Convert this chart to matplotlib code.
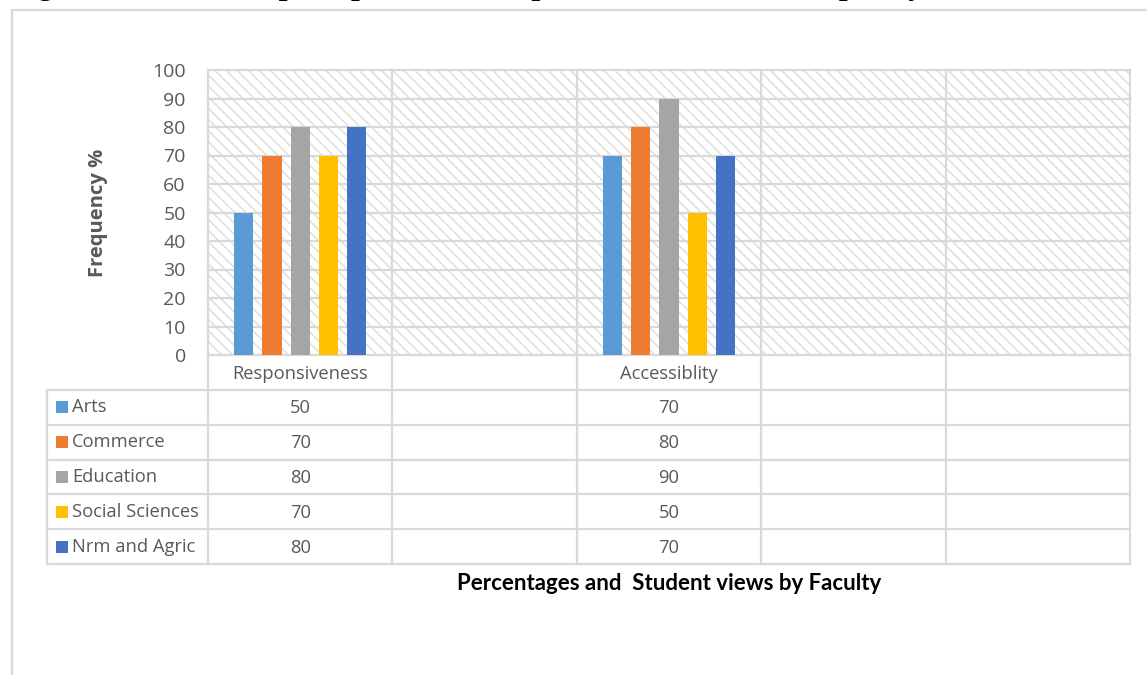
"""
Student perceptions chart: clustered bars with an Excel-style data table below.
"""
import numpy as np
import matplotlib
matplotlib.use("Agg")
import matplotlib.pyplot as plt
from matplotlib.patches import Rectangle
from matplotlib.lines import Line2D

# ---- data ----
categories = ["Responsiveness", "", "Accessiblity", "", ""]
series = ["Arts", "Commerce", "Education", "Social Sciences", "Nrm and Agric"]
arts = [50, None, 70, None, None]
commerce = [70, None, 80, None, None]
education = [80, None, 90, None, None]
social_sciences = [70, None, 50, None, None]
nrm_agric = [80, None, 70, None, None]
values = [arts, commerce, education, social_sciences, nrm_agric]
colors = ["#5B9BD5", "#ED7D31", "#A5A5A5", "#FFC000", "#4472C4"]
yticks = list(range(0, 101, 10))

title = "Figure 4.11 Student perceptions on the provision of ICT as to quality education"
ylabel = "Frequency %"
xlabel = "Percentages and  Student views by Faculty"

GRID = "#d9d9d9"
TXT = "#595959"
plt.rcParams["font.family"] = ["Open Sans", "DejaVu Sans"]
plt.rcParams["hatch.linewidth"] = 1.1

W, H = 1147, 675
fig = plt.figure(figsize=(W / 100, H / 100), dpi=100)


def fx(px):
    return px / W


def fy(py):
    return 1 - py / H


# ---- chart area ----
ax = fig.add_axes([fx(208), fy(355), fx(1130) - fx(208), fy(70) - fy(355)])
ax.set_xlim(-0.5, len(categories) - 0.5)
ax.set_ylim(0, 100)
ax.add_patch(Rectangle((0, 0), 1, 1, transform=ax.transAxes, facecolor="white",
                       edgecolor="#dedede", hatch="\\\\\\", lw=0, zorder=0))

for y in yticks:
    ax.axhline(y, color=GRID, lw=1.6, zorder=1, clip_on=False)
for b in np.arange(-0.5, len(categories), 1.0):
    ax.axvline(b, color=GRID, lw=1.6, zorder=1, clip_on=False)

x = np.arange(len(categories))
pitch, bw = 0.153, 0.105
for i, (name, vals, c) in enumerate(zip(series, values, colors)):
    v = np.array([np.nan if t is None else t for t in vals], dtype=float)
    ax.bar(x + (i - 2) * pitch, v, width=bw, color=c, zorder=3)

ax.set_yticks(yticks)
ax.set_yticklabels([str(t) for t in yticks])
ax.set_xticks([])
ax.tick_params(axis="y", length=0, pad=16, labelsize=14, labelcolor=TXT)
for s in ax.spines.values():
    s.set_visible(False)

fig.text(fx(98), fy(213), ylabel, rotation=90, ha="center", va="center",
         fontsize=14.5, fontweight="bold", color=TXT)

# ---- data table ----
tab = fig.add_axes([fx(47), fy(564), fx(1130) - fx(47), fy(355) - fy(564)])
unit = 922 / len(categories)
lab_w = (208 - 47) / unit
x0 = -0.5 - lab_w
tab.set_xlim(x0, len(categories) - 0.5)
tab.set_ylim(len(series) + 1, 0)
tab.axis("off")

for r in range(1, len(series) + 2):
    tab.add_line(Line2D([x0, len(categories) - 0.5], [r, r], color=GRID, lw=1.6,
                        clip_on=False))
tab.add_line(Line2D([x0, x0], [1, len(series) + 1], color=GRID, lw=1.6, clip_on=False))
for b in np.arange(-0.5, len(categories), 1.0):
    tab.add_line(Line2D([b, b], [0, len(series) + 1], color=GRID, lw=1.6, clip_on=False))

for j, cat in enumerate(categories):
    tab.text(j, 0.55, cat, ha="center", va="center", fontsize=13.2, color=TXT)

sq = 12 / unit
for i, (name, vals, c) in enumerate(zip(series, values, colors)):
    row = i + 1.5
    tab.add_patch(Rectangle((x0 + 9 / unit, row - 0.17), sq, 0.34, facecolor=c,
                            edgecolor="none"))
    tab.text(x0 + 25 / unit, row, name, ha="left", va="center", fontsize=13.2,
             color=TXT)
    for j, v in enumerate(vals):
        if v is not None:
            tab.text(j, row + 0.03, str(v), ha="center", va="center", fontsize=13.2,
                     color=TXT)

fig.text(fx(669), fy(584), xlabel, ha="center", va="center", fontsize=16,
         fontweight="bold", color="black", family=["Lato", "DejaVu Sans"])

# ---- outer frame and clipped title ----
fig.add_artist(Line2D([fx(12), fx(12)], [fy(10), 0], color=GRID, lw=1.6))
fig.add_artist(Line2D([fx(12), 1], [fy(10), fy(10)], color=GRID, lw=1.6))
fig.text(fx(10), fy(-6), title, ha="left", va="baseline", fontsize=22.5,
         fontweight="bold", family="Liberation Serif", color="black")

fig.savefig("out.png", dpi=100)
